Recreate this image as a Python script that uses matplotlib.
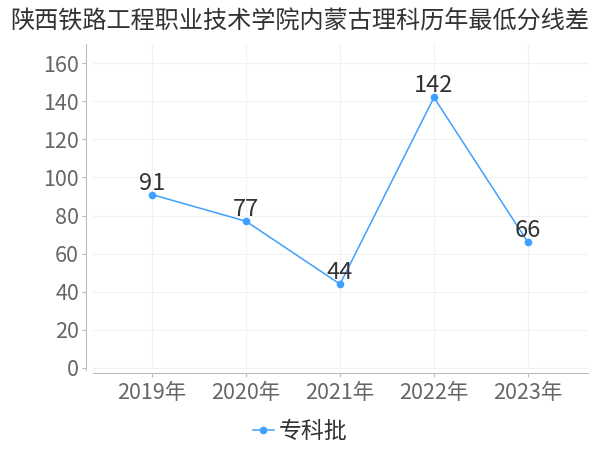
import matplotlib
matplotlib.use("Agg")
import matplotlib.pyplot as plt

plt.rcParams['font.family'] = ['Noto Sans CJK SC', 'DejaVu Sans']

years = ["2019年", "2020年", "2021年", "2022年", "2023年"]
scores = [91, 77, 44, 142, 66]
series_name = "专科批"
title = "陕西铁路工程职业技术学院内蒙古理科历年最低分线差"
yticks = [0, 20, 40, 60, 80, 100, 120, 140, 160]

line_color = "#3fa0ff"

fig = plt.figure(figsize=(6, 4.5), dpi=100)
ax = fig.add_axes([0.155, 0.178, 0.825, 0.724])

x = list(range(len(years)))
ax.plot(x, scores, color=line_color, lw=1.1, marker='o', markersize=4.5,
        label=series_name)

for xi, v in zip(x, scores):
    ax.annotate(str(v), (xi, v), xytext=(0, 0), textcoords='offset points',
                ha='center', va='bottom', fontsize=17, color='#333333')

ax.set_xlim(-0.63, len(years) - 1 + 0.64)
ax.set_ylim(-1, 170)
ax.set_xticks(x)
ax.set_xticklabels(years)
ax.set_yticks(yticks)

ax.grid(True, color='#f2f2f2', lw=0.8)
ax.set_axisbelow(True)

for s in ['top', 'right']:
    ax.spines[s].set_visible(False)
ax.spines['left'].set_position(('outward', 5))
ax.spines['bottom'].set_position(('outward', 2))
ax.spines['left'].set_color('#bbbbbb')
ax.spines['bottom'].set_color('#bbbbbb')
ax.tick_params(axis='both', colors='#bbbbbb', labelcolor='#666666',
               labelsize=15.5, length=3)
ax.tick_params(axis='x', pad=4)
ax.tick_params(axis='y', pad=2)

fig.suptitle(title, x=0.5, y=0.98, fontsize=17.4, color='#333333')

ax.legend(loc='center', bbox_to_anchor=(0.5, 0.04), bbox_transform=fig.transFigure,
          frameon=False, fontsize=16.5, handlelength=0.9, handletextpad=0.2,
          labelcolor='#333333')

fig.savefig("out.png", dpi=100)
